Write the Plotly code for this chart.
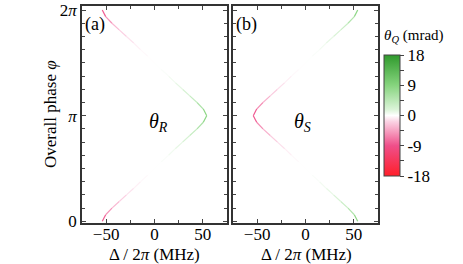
import math
import plotly.graph_objects as go
from plotly.colors import sample_colorscale

# ---- data ----
phi_over_pi = [0, 0.0625, 0.125, 0.1875, 0.25, 0.3125, 0.375, 0.4375, 0.5,
               0.5625, 0.625, 0.6875, 0.75, 0.8125, 0.875, 0.9375, 1.0,
               1.0625, 1.125, 1.1875, 1.25, 1.3125, 1.375, 1.4375, 1.5,
               1.5625, 1.625, 1.6875, 1.75, 1.8125, 1.875, 1.9375, 2.0]
delta_R = [-54, -50.5, -44, -36.5, -29, -21.5, -14.5, -7, 0,
           7, 14.5, 21.5, 29, 36.5, 44, 50.5, 54,
           50.5, 44, 36.5, 29, 21.5, 14.5, 7, 0,
           -7, -14.5, -21.5, -29, -36.5, -44, -50.5, -54]
theta_R = [-10, -6.5, -4, -2.5, -1.5, -0.8, -0.4, -0.1, 0,
           0.1, 0.4, 0.9, 1.6, 2.8, 4.5, 7, 10,
           7, 4.5, 2.8, 1.6, 0.9, 0.4, 0.1, 0,
           -0.1, -0.4, -0.8, -1.5, -2.5, -4, -6.5, -10]
delta_S = [54, 50.5, 44, 36.5, 29, 21.5, 14.5, 7, 0,
           -7, -14.5, -21.5, -29, -36.5, -44, -50.5, -54,
           -50.5, -44, -36.5, -29, -21.5, -14.5, -7, 0,
           7, 14.5, 21.5, 29, 36.5, 44, 50.5, 54]
theta_S = [10, 6.5, 4, 2.5, 1.5, 0.8, 0.4, 0.1, 0,
           -0.1, -0.4, -0.9, -1.6, -2.8, -4.5, -7, -10,
           -7, -4.5, -2.8, -1.6, -0.9, -0.4, -0.1, 0,
           0.1, 0.4, 0.8, 1.5, 2.5, 4, 6.5, 10]
cbar_ticks = [-18, -13.5, -9, -4.5, 0, 4.5, 9, 13.5, 18]
cbar_text = ["-18", "", "-9", "", "0", "", "9", "", "18"]
zmin, zmax = -18, 18

colorscale = [[0.0, "#ff1f2a"], [0.25, "#ef4f8a"], [0.45, "#fbd3e4"],
              [0.5, "#ffffff"], [0.55, "#dbf4d8"], [0.75, "#86d47e"],
              [1.0, "#2f9a2c"]]

phi = [p * math.pi for p in phi_over_pi]

W, H = 463, 264
FONT = "Liberation Serif"

fig = go.Figure()


def add_curve(delta, theta, xa, ya, showscale):
    for i in range(len(phi) - 1):
        v = ((theta[i] + theta[i + 1]) / 2 - zmin) / (zmax - zmin)
        col = sample_colorscale(colorscale, [v])[0]
        fig.add_trace(go.Scatter(x=[delta[i], delta[i + 1]], y=[phi[i], phi[i + 1]],
                                 mode="lines", line=dict(color=col, width=1.2),
                                 xaxis=xa, yaxis=ya, showlegend=False, hoverinfo="skip"))
    fig.add_trace(go.Scatter(
        x=delta, y=phi, mode="markers", xaxis=xa, yaxis=ya, showlegend=False,
        hoverinfo="skip",
        marker=dict(size=0.5, color=theta, colorscale=colorscale, cmin=zmin, cmax=zmax,
                    opacity=0.01, showscale=showscale,
                    colorbar=dict(x=384 / W, xanchor="left", xpad=0,
                                  y=1 - 115.5 / H, yanchor="middle", ypad=0,
                                  len=121 / H, lenmode="fraction", thickness=16,
                                  outlinewidth=1, outlinecolor="#444",
                                  tickvals=cbar_ticks, ticktext=cbar_text,
                                  ticks="outside", ticklen=4, tickcolor="#444",
                                  tickfont=dict(family=FONT, size=17, color="black"))),
    ))


add_curve(delta_R, theta_R, "x", "y", True)
add_curve(delta_S, theta_S, "x2", "y2", False)

ydom = [1 - 223 / H, 1 - 6 / H]
xcommon = dict(range=[-75, 75], tickvals=[-50, 0, 50], ticks="inside", ticklen=4,
               showline=True, linecolor="#333", linewidth=1.5, mirror="ticks",
               showgrid=False, zeroline=False, ticklabelstandoff=-5,
               minor=dict(tickvals=[-75, -25, 25, 75], ticklen=3, ticks="inside"),
               tickfont=dict(family=FONT, size=17, color="black"))
ycommon = dict(range=[-0.05, 2 * math.pi + 0.12], tickvals=[0, math.pi, 2 * math.pi],
               ticktext=["0", "<i>π</i>", "2<i>π</i>"], ticks="inside", ticklen=4,
               showline=True, linecolor="#333", linewidth=1.5, mirror="ticks",
               showgrid=False, zeroline=False,
               minor=dict(tickvals=[k * math.pi / 8 for k in range(17)], ticklen=3,
                          ticks="inside"),
               tickfont=dict(family=FONT, size=17, color="black"))

fig.update_layout(
    width=W, height=H, margin=dict(l=0, r=0, t=0, b=0, autoexpand=False),
    paper_bgcolor="white", plot_bgcolor="white",
    font=dict(family=FONT, size=17, color="black"),
    xaxis=dict(domain=[82 / W, 227 / W], anchor="y", **xcommon),
    yaxis=dict(domain=ydom, anchor="x", **ycommon),
    xaxis2=dict(domain=[233 / W, 378 / W], anchor="y2", **xcommon),
    yaxis2=dict(domain=ydom, anchor="x2", showticklabels=False,
                **{k: v for k, v in ycommon.items() if k != "tickfont"}),
)

ann = [
    dict(text="Δ / 2<i>π</i> (MHz)", x=154 / W, y=1 - 254 / H),
    dict(text="Δ / 2<i>π</i> (MHz)", x=306 / W, y=1 - 254 / H),
    dict(text="Overall phase <i>φ</i>", x=50 / W, y=1 - 114 / H, textangle=-90),
    dict(text="(a)", x=95 / W, y=1 - 24 / H, size=18),
    dict(text="(b)", x=246 / W, y=1 - 24 / H, size=18),
    dict(text="<i>θ</i><sub><i>R</i></sub>", x=158 / W, y=1 - 123 / H, size=20),
    dict(text="<i>θ</i><sub><i>S</i></sub>", x=302 / W, y=1 - 123 / H, size=20),
    dict(text="<i>θ</i><sub><i>Q</i></sub> (mrad)", x=414 / W, y=1 - 36 / H, size=15),
]
for a in ann:
    fig.add_annotation(text=a["text"], x=a["x"], y=a["y"], xref="paper", yref="paper",
                       xanchor="center", yanchor="middle", showarrow=False,
                       textangle=a.get("textangle", 0),
                       font=dict(family=FONT, size=a.get("size", 17), color="black"))

fig.write_html("out.html", config={"displayModeBar": False},
               post_script="document.body.style.margin='0';"
                           "document.body.style.overflow='hidden';")
